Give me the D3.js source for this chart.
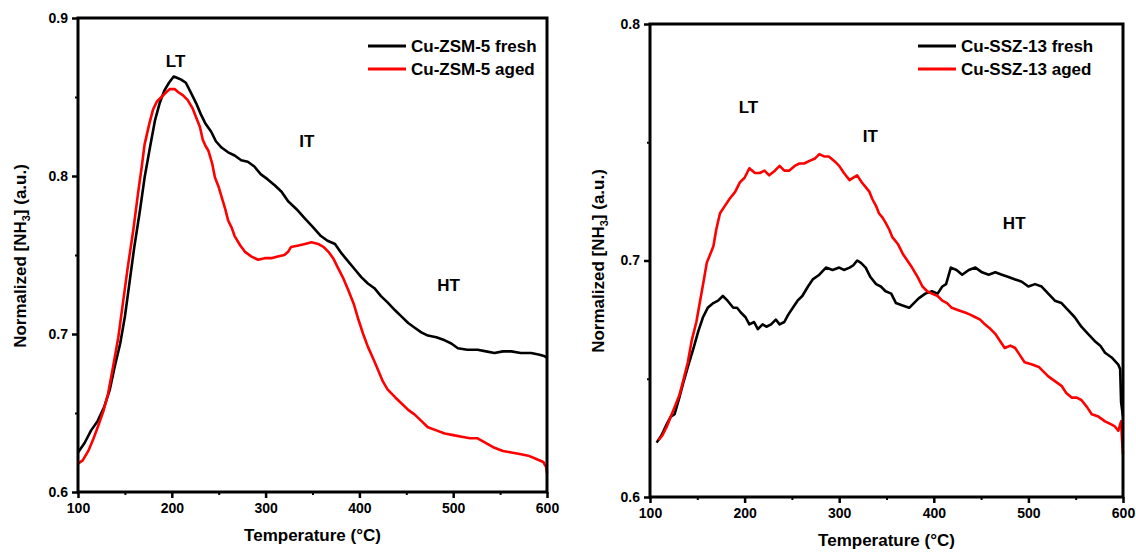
<!DOCTYPE html>
<html>
<head>
<meta charset="utf-8">
<script src="https://cdn.jsdelivr.net/npm/d3@7"></script>
<style>
    body { margin: 0; background: #fff; }
    svg text { font-family: "Liberation Sans", Arial, sans-serif; font-weight: bold; fill: #000; }
</style>
</head>
<body>
<svg id="chart" width="1136" height="552"></svg>
<script>
// Cu-ZSM-5, temperature (°C) / normalized NH3
const zsm_fresh_t = [100, 107, 114, 121, 128, 134, 139, 145, 150, 155, 160, 166, 171, 177, 182, 187, 192, 197, 202, 206, 210, 215, 221, 226, 231, 236, 242, 247, 253, 260, 267, 274, 281, 288, 295, 302, 310, 317, 324, 333, 342, 350, 359, 366, 374, 381, 388, 395, 402, 409, 416, 423, 430, 438, 445, 452, 459, 466, 473, 482, 491, 498, 505, 515, 526, 535, 544, 553, 562, 572, 583, 591, 597, 600];
const zsm_fresh_v = [0.625, 0.631, 0.639, 0.645, 0.654, 0.665, 0.679, 0.694, 0.711, 0.733, 0.755, 0.778, 0.799, 0.819, 0.835, 0.846, 0.854, 0.859, 0.863, 0.862, 0.861, 0.859, 0.852, 0.846, 0.839, 0.833, 0.828, 0.822, 0.818, 0.815, 0.813, 0.810, 0.809, 0.806, 0.801, 0.798, 0.794, 0.790, 0.784, 0.779, 0.773, 0.768, 0.762, 0.759, 0.757, 0.751, 0.746, 0.741, 0.736, 0.732, 0.729, 0.724, 0.720, 0.715, 0.711, 0.707, 0.704, 0.701, 0.699, 0.698, 0.696, 0.694, 0.691, 0.690, 0.690, 0.689, 0.688, 0.689, 0.689, 0.688, 0.688, 0.687, 0.686, 0.685];
const zsm_aged_t = [100, 105, 111, 116, 121, 127, 132, 137, 143, 148, 153, 159, 164, 168, 171, 176, 180, 184, 189, 194, 198, 203, 207, 212, 217, 222, 226, 230, 233, 236, 239, 243, 246, 250, 253, 257, 260, 264, 267, 273, 278, 285, 292, 299, 306, 313, 320, 324, 327, 335, 342, 349, 356, 362, 367, 372, 377, 383, 388, 394, 399, 404, 409, 415, 420, 425, 430, 438, 445, 452, 459, 466, 473, 482, 491, 500, 509, 518, 526, 535, 544, 553, 562, 571, 580, 588, 596, 599, 600];
const zsm_aged_v = [0.618, 0.620, 0.626, 0.633, 0.641, 0.651, 0.662, 0.678, 0.698, 0.720, 0.742, 0.766, 0.789, 0.806, 0.820, 0.833, 0.842, 0.847, 0.850, 0.853, 0.855, 0.855, 0.853, 0.851, 0.848, 0.843, 0.837, 0.831, 0.823, 0.819, 0.816, 0.808, 0.799, 0.793, 0.787, 0.779, 0.772, 0.767, 0.762, 0.756, 0.752, 0.749, 0.747, 0.748, 0.748, 0.749, 0.750, 0.752, 0.755, 0.756, 0.757, 0.758, 0.757, 0.755, 0.752, 0.748, 0.742, 0.735, 0.728, 0.719, 0.709, 0.700, 0.692, 0.684, 0.677, 0.670, 0.665, 0.660, 0.656, 0.652, 0.649, 0.645, 0.641, 0.639, 0.637, 0.636, 0.635, 0.634, 0.634, 0.631, 0.628, 0.626, 0.625, 0.624, 0.623, 0.621, 0.619, 0.616, 0.612];

// Cu-SSZ-13
const ssz_fresh_t = [107, 112, 118, 122, 126, 131, 135, 140, 146, 151, 156, 161, 167, 172, 177, 182, 188, 192, 196, 201, 205, 210, 214, 219, 223, 228, 233, 237, 242, 246, 251, 256, 261, 267, 272, 279, 286, 293, 300, 305, 311, 315, 319, 323, 328, 333, 339, 344, 349, 355, 360, 367, 374, 379, 384, 391, 398, 404, 409, 413, 418, 424, 430, 437, 444, 451, 458, 465, 472, 479, 486, 493, 500, 507, 514, 521, 528, 535, 542, 549, 556, 563, 570, 576, 581, 588, 595, 597, 598, 600];
const ssz_fresh_v = [0.623, 0.626, 0.631, 0.634, 0.635, 0.642, 0.648, 0.655, 0.663, 0.670, 0.676, 0.680, 0.682, 0.683, 0.685, 0.683, 0.680, 0.680, 0.678, 0.676, 0.673, 0.674, 0.671, 0.673, 0.672, 0.673, 0.675, 0.673, 0.674, 0.677, 0.680, 0.683, 0.685, 0.689, 0.692, 0.694, 0.697, 0.696, 0.697, 0.696, 0.697, 0.698, 0.700, 0.699, 0.697, 0.693, 0.690, 0.689, 0.687, 0.686, 0.682, 0.681, 0.680, 0.682, 0.684, 0.686, 0.687, 0.686, 0.689, 0.690, 0.697, 0.696, 0.694, 0.696, 0.697, 0.695, 0.694, 0.695, 0.694, 0.693, 0.692, 0.691, 0.689, 0.690, 0.689, 0.686, 0.683, 0.682, 0.679, 0.676, 0.672, 0.669, 0.666, 0.664, 0.661, 0.659, 0.656, 0.654, 0.640, 0.634];
const ssz_aged_t = [109, 113, 118, 122, 126, 131, 135, 140, 144, 149, 153, 157, 160, 164, 167, 170, 174, 179, 184, 190, 195, 200, 205, 211, 216, 221, 226, 232, 237, 242, 247, 253, 258, 263, 268, 274, 279, 284, 289, 295, 300, 305, 311, 315, 319, 324, 328, 332, 335, 339, 342, 346, 349, 353, 356, 362, 367, 372, 377, 383, 388, 393, 398, 404, 409, 414, 419, 426, 433, 439, 444, 449, 454, 460, 465, 470, 475, 481, 486, 491, 496, 504, 511, 516, 521, 528, 535, 540, 546, 551, 556, 562, 567, 574, 581, 586, 591, 595, 598, 599, 600];
const ssz_aged_v = [0.624, 0.626, 0.630, 0.634, 0.638, 0.643, 0.649, 0.657, 0.666, 0.674, 0.683, 0.692, 0.699, 0.703, 0.706, 0.713, 0.720, 0.723, 0.726, 0.729, 0.733, 0.735, 0.739, 0.737, 0.737, 0.738, 0.736, 0.738, 0.740, 0.738, 0.738, 0.740, 0.741, 0.741, 0.742, 0.743, 0.745, 0.744, 0.744, 0.742, 0.740, 0.737, 0.734, 0.735, 0.736, 0.733, 0.731, 0.729, 0.726, 0.723, 0.720, 0.718, 0.716, 0.713, 0.710, 0.707, 0.703, 0.700, 0.697, 0.693, 0.689, 0.687, 0.686, 0.685, 0.683, 0.682, 0.680, 0.679, 0.678, 0.677, 0.676, 0.675, 0.673, 0.671, 0.669, 0.666, 0.663, 0.664, 0.663, 0.660, 0.657, 0.656, 0.655, 0.653, 0.651, 0.649, 0.647, 0.644, 0.642, 0.642, 0.641, 0.638, 0.635, 0.634, 0.632, 0.631, 0.630, 0.628, 0.632, 0.624, 0.618];

const zsm_labels = ["Cu-ZSM-5 fresh", "Cu-ZSM-5 aged"];
const ssz_labels = ["Cu-SSZ-13 fresh", "Cu-SSZ-13 aged"];
const x_ticks = [100, 200, 300, 400, 500, 600];
const zsm_y_ticks = [0.6, 0.7, 0.8, 0.9];
const ssz_y_ticks = [0.6, 0.7, 0.8];
const colors = ["#000000", "#ff0000"];

const svg = d3.select("#chart");

function zip(t, v) {
    return t.map((d, i) => [d, v[i]]);
}

function draw_panel(p) {
    var x = d3.scaleLinear().domain([100, 600]).range([p.left, p.right]);
    var y = d3.scaleLinear().domain(p.y_domain).range([p.bottom, p.top]);
    var g = svg.append("g");

    // minor ticks first, then major axes on top
    var x_minor = d3.range(150, 600, 100);
    var y_minor = d3.range(p.y_domain[0] + 0.05, p.y_domain[1], 0.1);

    g.append("g")
        .attr("transform", `translate(0,${p.bottom})`)
        .call(d3.axisBottom(x).tickValues(x_minor).tickSize(3).tickFormat(""))
        .call(a => a.select(".domain").remove())
        .selectAll("line").attr("stroke-width", 2);
    g.append("g")
        .attr("transform", `translate(${p.left},0)`)
        .call(d3.axisLeft(y).tickValues(y_minor).tickSize(3).tickFormat(""))
        .call(a => a.select(".domain").remove())
        .selectAll("line").attr("stroke-width", 2);

    // curves
    var line = d3.line().x(d => x(d[0])).y(d => y(d[1]));
    p.series.forEach((s, i) => {
        g.append("path")
            .datum(s)
            .attr("fill", "none")
            .attr("stroke", colors[i])
            .attr("stroke-width", 2.6)
            .attr("stroke-linejoin", "round")
            .attr("d", line);
    });

    // frame
    g.append("rect")
        .attr("x", p.left).attr("y", p.top)
        .attr("width", p.right - p.left).attr("height", p.bottom - p.top)
        .attr("fill", "none").attr("stroke", "#000").attr("stroke-width", 3);

    var xa = g.append("g")
        .attr("transform", `translate(0,${p.bottom})`)
        .call(d3.axisBottom(x).tickValues(x_ticks).tickSize(6).tickPadding(5));
    xa.select(".domain").remove();
    xa.selectAll("line").attr("stroke-width", 2.5);
    xa.selectAll("text").style("font-size", "14px").attr("fill", "#000");

    var ya = g.append("g")
        .attr("transform", `translate(${p.left},0)`)
        .call(d3.axisLeft(y).tickValues(p.y_ticks).tickSize(6).tickPadding(4).tickFormat(d3.format(".1f")));
    ya.select(".domain").remove();
    ya.selectAll("line").attr("stroke-width", 2.5);
    ya.selectAll("text").style("font-size", "14px").attr("fill", "#000");

    // axis titles
    g.append("text")
        .attr("x", (p.left + p.right) / 2).attr("y", p.bottom + 49)
        .attr("text-anchor", "middle")
        .style("font-size", "17px")
        .text("Temperature (°C)");

    var yt = g.append("text")
        .attr("transform", `translate(${p.ytitle_x},${p.ytitle_y}) rotate(-90)`)
        .attr("text-anchor", "middle")
        .style("font-size", "17px");
    yt.append("tspan").text("Normalized [NH");
    yt.append("tspan").attr("dy", 4).style("font-size", "11px").text("3");
    yt.append("tspan").attr("dy", -4).text("] (a.u.)");

    // legend
    p.labels.forEach((lab, i) => {
        var ly = p.legend_y + i * 23;
        g.append("line")
            .attr("x1", p.legend_x).attr("x2", p.legend_x + 38)
            .attr("y1", ly).attr("y2", ly)
            .attr("stroke", colors[i]).attr("stroke-width", 3);
        g.append("text")
            .attr("x", p.legend_x + 43).attr("y", ly + 6)
            .style("font-size", "17px")
            .text(lab);
    });

    // peak labels
    p.notes.forEach(n => {
        g.append("text")
            .attr("x", x(n[1])).attr("y", y(n[2]))
            .attr("text-anchor", "middle")
            .attr("dy", "0.35em")
            .style("font-size", "17px")
            .text(n[0]);
    });
}

draw_panel({
    left: 78, right: 547, top: 18, bottom: 492,
    y_domain: [0.6, 0.9],
    y_ticks: zsm_y_ticks,
    series: [zip(zsm_fresh_t, zsm_fresh_v), zip(zsm_aged_t, zsm_aged_v)],
    labels: zsm_labels,
    legend_x: 368, legend_y: 46,
    ytitle_x: 26, ytitle_y: 256,
    notes: [["LT", 204, 0.873], ["IT", 344, 0.822], ["HT", 495, 0.731]]
});

draw_panel({
    left: 650, right: 1123, top: 24, bottom: 497,
    y_domain: [0.6, 0.8],
    y_ticks: ssz_y_ticks,
    series: [zip(ssz_fresh_t, ssz_fresh_v), zip(ssz_aged_t, ssz_aged_v)],
    labels: ssz_labels,
    legend_x: 918, legend_y: 46,
    ytitle_x: 604, ytitle_y: 261,
    notes: [["LT", 204, 0.7648], ["IT", 333, 0.7525], ["HT", 485, 0.7158]]
});
</script>
</body>
</html>
